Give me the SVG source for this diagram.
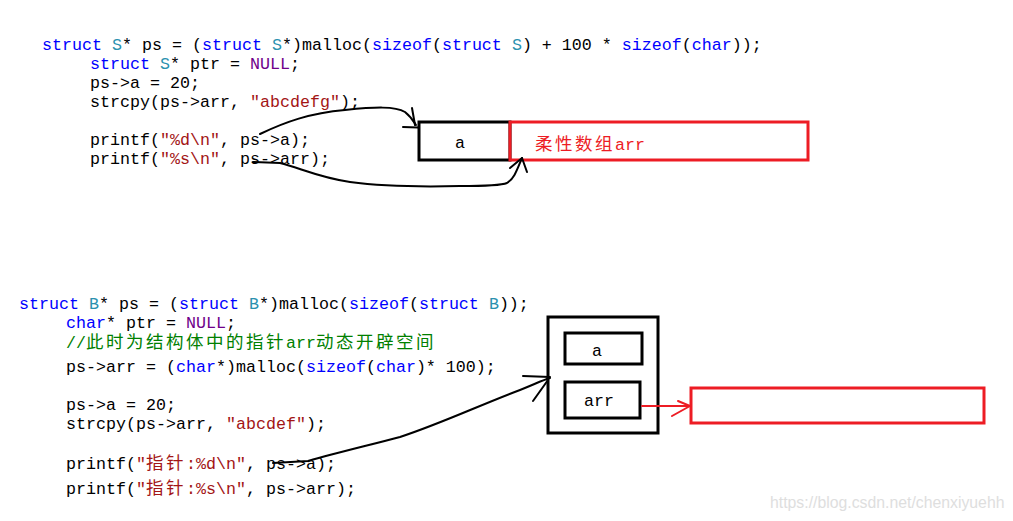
<svg xmlns="http://www.w3.org/2000/svg" width="1013" height="521" viewBox="0 0 1013 521">
<style>
text{font-family:"Liberation Mono","Noto Sans CJK SC",monospace;font-size:16.667px;fill:#000;white-space:pre}
.kw{fill:#0000ff}
.ty{fill:#2b91af}
.nu{fill:#6f008a}
.st{fill:#a31515}
.cm{fill:#008000}
.cjk{font-family:"Noto Sans CJK SC",sans-serif;font-size:17.5px;letter-spacing:2.5px}
.box{fill:#fff;stroke:#000;stroke-width:3}
.rbox{fill:none;stroke:#ed1c24;stroke-width:3}
.hand{fill:none;stroke:#000;stroke-width:2;stroke-linecap:round;stroke-linejoin:round}
.rhand{fill:none;stroke:#ed1c24;stroke-width:2;stroke-linecap:round;stroke-linejoin:round}
.wm{font-family:"Liberation Sans",Arial,sans-serif;font-size:15.8px;fill:#dedede}
</style>
<rect width="1013" height="521" fill="#fff"/>
<g id="code-top">
<text x="42" y="50" xml:space="preserve"><tspan class="kw">struct</tspan> <tspan class="ty">S</tspan>* ps = (<tspan class="kw">struct</tspan> <tspan class="ty">S</tspan>*)malloc(<tspan class="kw">sizeof</tspan>(<tspan class="kw">struct</tspan> <tspan class="ty">S</tspan>) + 100 * <tspan class="kw">sizeof</tspan>(<tspan class="kw">char</tspan>));</text>
<text x="90" y="69" xml:space="preserve"><tspan class="kw">struct</tspan> <tspan class="ty">S</tspan>* ptr = <tspan class="nu">NULL</tspan>;</text>
<text x="90" y="88" xml:space="preserve">ps-&gt;a = 20;</text>
<text x="90" y="107" xml:space="preserve">strcpy(ps-&gt;arr, <tspan class="st">"abcdefg"</tspan>);</text>
<text x="90" y="145" xml:space="preserve">printf(<tspan class="st">"%d\n"</tspan>, ps-&gt;a);</text>
<text x="90" y="164" xml:space="preserve">printf(<tspan class="st">"%s\n"</tspan>, ps-&gt;arr);</text>
</g>
<g id="code-bottom">
<text x="19" y="309" xml:space="preserve"><tspan class="kw">struct</tspan> <tspan class="ty">B</tspan>* ps = (<tspan class="kw">struct</tspan> <tspan class="ty">B</tspan>*)malloc(<tspan class="kw">sizeof</tspan>(<tspan class="kw">struct</tspan> <tspan class="ty">B</tspan>));</text>
<text x="66" y="328" xml:space="preserve"><tspan class="kw">char</tspan>* ptr = <tspan class="nu">NULL</tspan>;</text>
<text x="66" y="348" class="cm" xml:space="preserve">//<tspan class="cjk" x="86">此时为结构体中的指针</tspan><tspan x="286">arr</tspan><tspan class="cjk" x="316">动态开辟空间</tspan></text>
<text x="66" y="372" xml:space="preserve">ps-&gt;arr = (<tspan class="kw">char</tspan>*)malloc(<tspan class="kw">sizeof</tspan>(<tspan class="kw">char</tspan>)* 100);</text>
<text x="66" y="410" xml:space="preserve">ps-&gt;a = 20;</text>
<text x="66" y="429" xml:space="preserve">strcpy(ps-&gt;arr, <tspan class="st">"abcdef"</tspan>);</text>
<text x="66" y="469" xml:space="preserve">printf(<tspan class="st">"</tspan><tspan class="st cjk" x="146">指针</tspan><tspan class="st" x="186">:%d\n"</tspan><tspan x="246">, ps-&gt;a);</tspan></text>
<text x="66" y="494" xml:space="preserve">printf(<tspan class="st">"</tspan><tspan class="st cjk" x="146">指针</tspan><tspan class="st" x="186">:%s\n"</tspan><tspan x="246">, ps-&gt;arr);</tspan></text>
</g>
<g id="node-S-a">
<rect class="box" x="419" y="122" width="91" height="38"/>
<text x="460" y="148" text-anchor="middle">a</text>
</g>
<g id="node-S-flex-arr">
<rect class="rbox" x="510" y="122" width="298" height="38"/>
<text x="535" y="150" style="fill:#ed1c24"><tspan class="cjk" style="fill:#ed1c24">柔性数组</tspan><tspan x="615" style="fill:#ed1c24">arr</tspan></text>
</g>
<g id="node-B">
<rect class="box" x="548" y="317" width="110" height="116" style="fill:none"/>
</g>
<g id="node-B-a">
<rect class="box" x="565" y="333" width="77" height="31"/>
<text x="597" y="356" text-anchor="middle">a</text>
</g>
<g id="node-B-arr">
<rect class="box" x="565" y="382" width="75" height="36"/>
<text x="599" y="406" text-anchor="middle">arr</text>
</g>
<g id="node-heap-arr">
<rect class="rbox" x="691" y="388" width="293" height="35"/>
</g>
<g id="connectors">
<path class="hand" d="M260,134 C285,122 310,113 345,110 C375,107 395,106 405,112 C410,116 413,120 416,125"/>
<path class="hand" d="M412,108 L415,125 M403,127 L418,127.5"/>
<path class="hand" d="M253,162 L280,163 C300,168 320,178 350,182 C380,186 420,187 460,186 C480,186 500,186 507,183 C514,179 517,170 522,158"/>
<path class="hand" d="M510,168 L522,158 L527,172"/>
<path class="hand" d="M273,463 L308,461 C340,452 370,445 400,437 C440,424 480,405 520,390 C535,384 543,380 550,378"/>
<path class="hand" d="M523,376 L550,377 M533,401 L548,380"/>
<path class="rhand" d="M642,406 L689,406"/>
<path class="rhand" d="M678,401 L690,406 L672,416"/>
</g>
<text class="wm" x="770" y="508">https://blog.csdn.net/chenxiyuehh</text>
</svg>
